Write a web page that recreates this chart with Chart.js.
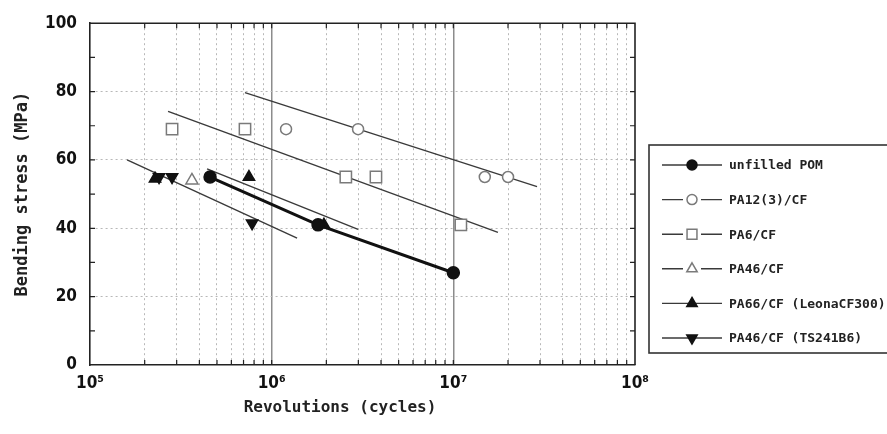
<!DOCTYPE html>
<html>
<head>
<meta charset="utf-8">
<script src="https://cdn.jsdelivr.net/npm/chart.js@4/dist/chart.umd.min.js"></script>
<style>
html,body{margin:0;padding:0;background:#fff;}
#wrap{width:887px;height:434px;position:relative;}
</style>
</head>
<body>
<div id="wrap"><canvas id="c"></canvas></div>
<script>
// ---------- data (revolutions in cycles, bending stress in MPa) ----------
const seriesNames = ['unfilled POM', 'PA12(3)/CF', 'PA6/CF', 'PA46/CF', 'PA66/CF (LeonaCF300)', 'PA46/CF (TS241B6)'];

const pomCycles   = [4.58e5, 1.80e6, 1.0e7];
const pomStress   = [55, 41, 27];
const pa12Cycles  = [1.20e6, 2.99e6, 1.49e7, 2.0e7];
const pa12Stress  = [69, 69, 55, 55];
const pa6Cycles   = [2.83e5, 7.13e5, 2.56e6, 3.75e6, 1.10e7];
const pa6Stress   = [69, 69, 55, 55, 41];
const pa46Cycles  = [3.64e5];
const pa46Stress  = [54];
const pa66Cycles  = [2.28e5, 7.5e5, 1.94e6];
const pa66Stress  = [54.5, 55, 41];
const ts241Cycles = [2.40e5, 2.83e5, 7.8e5];
const ts241Stress = [55, 55, 41.5];

// fitted S-N lines (start point, end point)
const pa12FitCycles  = [7.13e5, 2.89e7];
const pa12FitStress  = [79.7, 52.2];
const pa6FitCycles   = [2.69e5, 1.76e7];
const pa6FitStress   = [74.2, 38.8];
const pa66FitCycles  = [4.41e5, 2.99e6];
const pa66FitStress  = [57.4, 39.7];
const ts241FitCycles = [1.60e5, 1.38e6];
const ts241FitStress = [60, 37.1];

// ticks
const xDecadeExps  = [5, 6, 7, 8];
const xTickLabels  = ['10\u2075', '10\u2076', '10\u2077', '10\u2078'];
const yTickLabels  = [0, 20, 40, 60, 80, 100];
const yMinorTicks  = [10, 30, 50, 70, 90];
const xAxisTitle   = 'Revolutions (cycles)';
const yAxisTitle   = 'Bending stress (MPa)';

// ---------- helpers ----------
const pts = (xs, ys) => xs.map((x, i) => ({x: x, y: ys[i]}));
const xTickValues = [];
xDecadeExps.forEach((e, k) => {
  if (k === xDecadeExps.length - 1) { xTickValues.push(Math.pow(10, e)); return; }
  for (let m = 1; m <= 9; m++) xTickValues.push(m * Math.pow(10, e));
});
const yTickValues = yTickLabels.concat(yMinorTicks).sort((a, b) => a - b);
const isPow10 = v => { const e = Math.log10(v); return Math.abs(e - Math.round(e)) < 1e-6; };

const GRAY = '#7a7a7a';
const LINE = '#3a3a3a';
const BLACK = '#111';

function markerSet(idx, cycles, stress, o) {
  return Object.assign({
    label: seriesNames[idx],
    data: pts(cycles, stress),
    showLine: false,
    order: 0,
    legendRow: idx,
    borderColor: LINE,
    borderWidth: 1.4,
    pointBorderWidth: 1.5
  }, o);
}
function fitSet(cycles, stress) {
  return {
    label: '',
    data: pts(cycles, stress),
    showLine: true,
    pointRadius: 0,
    borderColor: LINE,
    borderWidth: 1.4,
    order: 1
  };
}

const datasets = [
  markerSet(0, pomCycles, pomStress, {showLine: true, borderColor: BLACK, borderWidth: 3,
    pointStyle: 'circle', pointRadius: 6, pointBackgroundColor: BLACK, pointBorderColor: BLACK, legendLine: 1.6}),
  markerSet(1, pa12Cycles, pa12Stress, {pointStyle: 'circle', pointRadius: 5.5,
    pointBackgroundColor: '#fff', pointBorderColor: GRAY, legendGap: true}),
  markerSet(2, pa6Cycles, pa6Stress, {pointStyle: 'rect', pointRadius: 8,
    pointBackgroundColor: '#fff', pointBorderColor: GRAY, legendGap: true}),
  markerSet(3, pa46Cycles, pa46Stress, {pointStyle: 'triangle', pointRadius: 7,
    pointBackgroundColor: '#fff', pointBorderColor: GRAY, legendGap: true}),
  markerSet(4, pa66Cycles, pa66Stress, {pointStyle: 'triangle', pointRadius: 6.5,
    pointBackgroundColor: BLACK, pointBorderColor: BLACK}),
  markerSet(5, ts241Cycles, ts241Stress, {pointStyle: 'triangle', pointRotation: 180, pointRadius: 6.5,
    pointBackgroundColor: BLACK, pointBorderColor: BLACK}),
  fitSet(pa12FitCycles, pa12FitStress),
  fitSet(pa6FitCycles, pa6FitStress),
  fitSet(pa66FitCycles, pa66FitStress),
  fitSet(ts241FitCycles, ts241FitStress)
];

// ---------- plugins ----------
const framePlugin = {
  id: 'frame',
  beforeDatasetsDraw(chart) {
    const {ctx, chartArea: a, scales: {x, y}} = chart;
    ctx.save();
    ctx.strokeStyle = '#222';
    ctx.lineWidth = 1.2;
    ctx.beginPath();
    x.ticks.forEach(t => {
      const px = x.getPixelForValue(t.value);
      if (px <= a.left + 1 || px >= a.right - 1) return;
      ctx.moveTo(px, a.bottom); ctx.lineTo(px, a.bottom - 5);
      ctx.moveTo(px, a.top); ctx.lineTo(px, a.top + 5);
    });
    y.ticks.forEach(t => {
      const py = y.getPixelForValue(t.value);
      if (py <= a.top + 1 || py >= a.bottom - 1) return;
      ctx.moveTo(a.left, py); ctx.lineTo(a.left + 5, py);
      ctx.moveTo(a.right, py); ctx.lineTo(a.right - 5, py);
    });
    ctx.stroke();
    ctx.lineWidth = 1.6;
    ctx.beginPath();
    ctx.moveTo(a.left, a.top); ctx.lineTo(a.right, a.top); ctx.lineTo(a.right, a.bottom);
    ctx.stroke();
    ctx.restore();
  }
};

function drawMarker(ctx, ds, x, y, r) {
  const opts = {pointStyle: ds.pointStyle, radius: r, rotation: ds.pointRotation || 0, borderWidth: ds.pointBorderWidth};
  ctx.fillStyle = ds.pointBackgroundColor;
  ctx.strokeStyle = ds.pointBorderColor;
  ctx.lineWidth = ds.pointBorderWidth;
  if (Chart.helpers && Chart.helpers.drawPoint) {
    Chart.helpers.drawPoint(ctx, opts, x, y);
  } else {
    ctx.beginPath(); ctx.arc(x, y, r, 0, Math.PI * 2); ctx.fill(); ctx.stroke();
  }
}

const legendPlugin = {
  id: 'boxLegend',
  afterDraw(chart) {
    const {ctx, chartArea: a} = chart;
    const bx = a.right + 14, by = 145, bh = 208;
    ctx.save();
    ctx.strokeStyle = '#333';
    ctx.lineWidth = 1.6;
    ctx.strokeRect(bx, by, chart.width - bx + 5, bh);
    const rows = chart.data.datasets.filter(d => d.legendRow !== undefined);
    rows.forEach((d, i) => {
      const yy = by + 20 + i * 34.6;
      const x0 = bx + 13, x1 = bx + 73, xm = bx + 43;
      ctx.strokeStyle = LINE;
      ctx.lineWidth = d.legendLine || 1.4;
      ctx.beginPath();
      if (d.legendGap) {
        ctx.moveTo(x0, yy); ctx.lineTo(xm - 9, yy);
        ctx.moveTo(xm + 9, yy); ctx.lineTo(x1, yy);
      } else {
        ctx.moveTo(x0, yy); ctx.lineTo(x1, yy);
      }
      ctx.stroke();
      const r = d.pointStyle === 'rect' ? 7 : (d.pointStyle === 'triangle' ? 6 : 5);
      drawMarker(ctx, d, xm, yy, r);
      ctx.fillStyle = '#222';
      ctx.font = 'bold 13px "DejaVu Sans Mono", monospace';
      ctx.textAlign = 'left';
      ctx.textBaseline = 'middle';
      ctx.fillText(d.label, bx + 80, yy + 1);
    });
    // x axis title
    ctx.fillStyle = '#222';
    ctx.font = 'bold 16px "DejaVu Sans Mono", monospace';
    ctx.textAlign = 'center';
    ctx.textBaseline = 'middle';
    ctx.fillText(xAxisTitle, a.left + 250, 408);
    ctx.restore();
  }
};

const tickFont = {family: "'DejaVu Sans Condensed', 'DejaVu Sans Mono', sans-serif", size: 17, weight: 'bold'};

new Chart(document.getElementById('c'), {
  type: 'scatter',
  data: {datasets: datasets},
  options: {
    responsive: true,
    maintainAspectRatio: false,
    animation: false,
    layout: {padding: {top: 20, right: 252, left: 0, bottom: 0}},
    plugins: {legend: {display: false}, tooltip: {enabled: false}},
    scales: {
      x: {
        type: 'logarithmic',
        min: 1e5, max: 1e8,
        afterBuildTicks: s => { s.ticks = xTickValues.map(v => ({value: v})); },
        afterFit: s => { s.height = 69; },
        ticks: {
          autoSkip: false, maxRotation: 0, minRotation: 0, padding: 8,
          color: BLACK, font: tickFont,
          callback: v => isPow10(v) ? xTickLabels[xDecadeExps.indexOf(Math.round(Math.log10(v)))] : ''
        },
        grid: {
          drawTicks: false,
          color: c => {
            const v = c.tick ? c.tick.value : 0;
            if (v <= 1e5 * 1.001 || v >= 1e8 * 0.999) return 'rgba(0,0,0,0)';
            return isPow10(v) ? '#8c8c8c' : '#b8b8b8';
          },
          lineWidth: c => (c.tick && isPow10(c.tick.value)) ? 1.5 : 1
        },
        border: {
          display: true, color: '#222', width: 1.6,
          dash: c => (c.tick && !isPow10(c.tick.value)) ? [2, 3] : []
        }
      },
      y: {
        min: 0, max: 100,
        afterBuildTicks: s => { s.ticks = yTickValues.map(v => ({value: v})); },
        afterFit: s => { s.width = 90; },
        ticks: {
          padding: 13, color: BLACK, font: tickFont,
          callback: v => yTickLabels.includes(v) ? String(v) : ''
        },
        grid: {
          drawTicks: false,
          color: c => (c.tick && [20, 40, 60, 80].includes(c.tick.value)) ? '#b8b8b8' : 'rgba(0,0,0,0)',
          lineWidth: 1
        },
        border: {display: true, color: '#222', width: 1.6, dash: [2, 3]},
        title: {
          display: true, text: yAxisTitle, color: '#222',
          font: {family: '"DejaVu Sans Mono", monospace', size: 17, weight: 'bold'},
          padding: {top: 12, bottom: 0}
        }
      }
    }
  },
  plugins: [framePlugin, legendPlugin]
});
</script>
</body>
</html>
